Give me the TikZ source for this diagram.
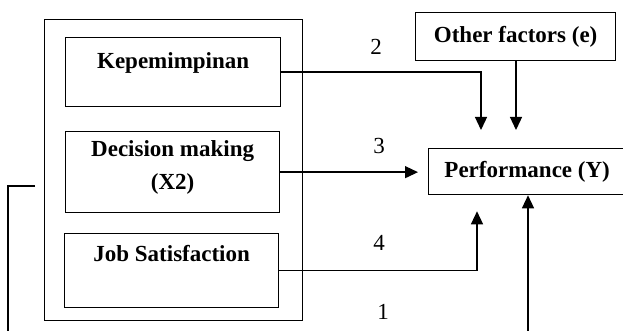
\documentclass[tikz,border=0pt]{standalone}
\usepackage{fontspec}
\setmainfont{Liberation Serif}
\usetikzlibrary{arrows.meta}

\begin{document}
\begin{tikzpicture}[x=1pt,y=-1pt,
  box/.style={draw,line width=1.3pt,inner sep=0pt,anchor=north west,align=center,
    font=\fontsize{23}{33}\selectfont\bfseries},
  arr/.style={line width=1.3pt,-{Triangle[length=13pt,width=12pt]}},
  num/.style={font=\fontsize{23}{28}\selectfont}]
  \useasboundingbox (0,0) rectangle (623,331);
  % left group
  \node[box,minimum width=258,minimum height=301] (group) at (44,19) {};
  \node[box,minimum width=215,minimum height=69,text height=15.5pt,text depth=23pt] (kep) at (65,37) {Kepemimpinan};
  \node[box,minimum width=214,minimum height=81,text depth=15pt] (dec) at (65,131) {Decision making\\(X2)};
  \node[box,minimum width=214,minimum height=74,text height=15.5pt,text depth=34pt] (job) at (64,233) {Job Satisfaction};
  % right side
  \node[box,minimum width=200,minimum height=48,text height=15.5pt,text depth=3pt] (other) at (415,12) {Other factors (e)};
  \node[box,minimum width=197,minimum height=46] (perf) at (428,148) {Performance (Y)};
  % arrows
  \draw[arr,shorten >=18pt] (kep.east) -| (perf.north -| 481,0);
  \draw[arr,shorten >=18pt] (other.south -| 516,0) -- (perf.north -| 516,0);
  \draw[arr,shorten >=10pt] (dec.east) -- (perf.west |- dec.east);
  \draw[arr,shorten >=16pt] (job.east) -| (perf.south -| 477,0);
  \coordinate (start1) at (35,186);
  \draw[arr] (start1) -- (8,186) -- (8,345) -| (perf.south -| 528,0);
  % numbers
  \node[num] (n2) at (376,47) {2};
  \node[num] (n3) at (379,146) {3};
  \node[num] (n4) at (379,243) {4};
  \node[num] (n1) at (383,312) {1};
\end{tikzpicture}
\end{document}
